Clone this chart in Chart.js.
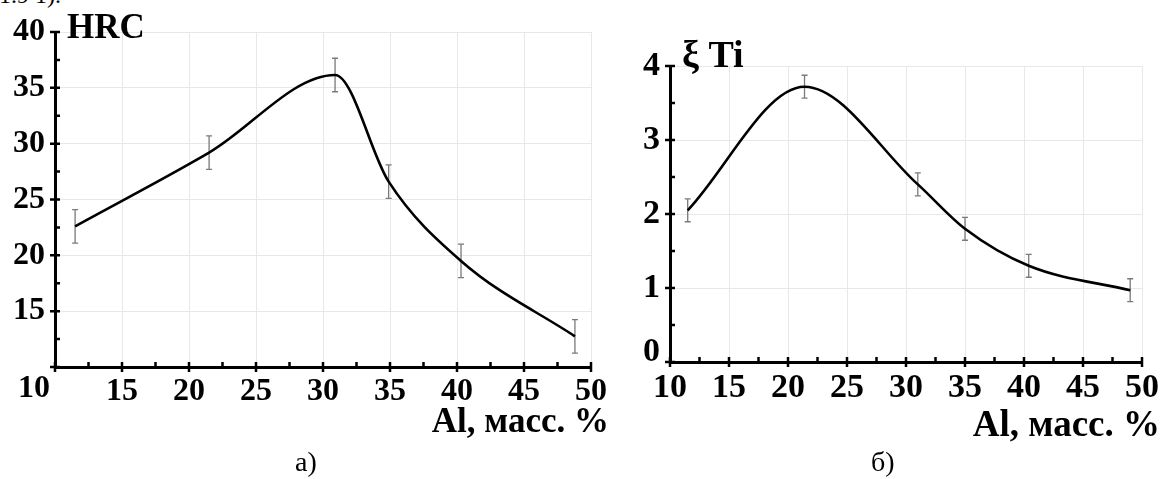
<!DOCTYPE html>
<html>
<head>
<meta charset="utf-8">
<script src="https://cdn.jsdelivr.net/npm/chart.js@4.4.1/dist/chart.umd.min.js"></script>
<style>
html,body{margin:0;padding:0;background:#fff;width:1166px;height:479px;overflow:hidden;position:relative;}
canvas{position:absolute;top:0;}
#c1{left:0;}
#c2{left:620px;}
.txt{position:absolute;font-family:"Liberation Serif","Times New Roman",serif;color:#000;white-space:nowrap;}
</style>
</head>
<body>
<div class="txt" style="left:-1px;top:-17px;font-size:24px;line-height:24px;">1.9 1).</div>
<canvas id="c1" width="620" height="479"></canvas>
<canvas id="c2" width="546" height="479"></canvas>
<div class="txt" style="left:295px;top:448px;font-size:28px;line-height:28px;">а)</div>
<div class="txt" style="left:871px;top:448px;font-size:28px;line-height:28px;">б)</div>
<script>
// ---- data ----
const xTickValues = [10, 15, 20, 25, 30, 35, 40, 45, 50];

const alHRC  = [11.5, 21.5, 30.9, 34.9, 40.3, 48.8];
const hrc    = [22.6, 29.2, 36.15, 26.6, 19.5, 12.75];
const hrcErr = [1.5, 1.5, 1.5, 1.5, 1.5, 1.5];
const hrcTickValues = [10, 15, 20, 25, 30, 35, 40];

const alTi   = [11.5, 21.4, 31.0, 35.0, 40.4, 49.0];
const xiTi   = [2.05, 3.72, 2.40, 1.80, 1.30, 0.97];
const xiErr  = [0.155, 0.155, 0.155, 0.155, 0.155, 0.155];
const xiTickValues = [0, 1, 2, 3, 4];

const xTitle = 'Al, масс. %';
const FONT = '"Liberation Serif", "Times New Roman", serif';

// plugin: error bars, axis tick marks, custom labels and titles
const decor = {
  id: 'decor',
  beforeDatasetsDraw(chart, args, o) {
    const ctx = chart.ctx, xs = chart.scales.x, ys = chart.scales.y;
    ctx.save();
    ctx.strokeStyle = '#7a7a7a';
    ctx.lineWidth = 1.3;
    o.xv.forEach((xv, i) => {
      const px = xs.getPixelForValue(xv);
      const top = ys.getPixelForValue(o.yv[i] + o.err[i]);
      const bot = ys.getPixelForValue(o.yv[i] - o.err[i]);
      ctx.beginPath();
      ctx.moveTo(px, top); ctx.lineTo(px, bot);
      ctx.moveTo(px - 3, top); ctx.lineTo(px + 3, top);
      ctx.moveTo(px - 3, bot); ctx.lineTo(px + 3, bot);
      ctx.stroke();
    });
    ctx.restore();
  },
  afterDraw(chart, args, o) {
    const ctx = chart.ctx, xs = chart.scales.x, ys = chart.scales.y;
    const axY = ys.getPixelForValue(ys.min);
    const axX = xs.getPixelForValue(xs.min);
    ctx.save();
    ctx.strokeStyle = '#000';
    ctx.lineWidth = 2.5;
    ctx.beginPath();
    // x ticks
    for (let i = 0; i < o.xTicks.length; i++) {
      const v = o.xTicks[i];
      const p = xs.getPixelForValue(v);
      ctx.moveTo(p, axY - 5); ctx.lineTo(p, axY + 5);
      if (i < o.xTicks.length - 1) {
        const m = xs.getPixelForValue((v + o.xTicks[i + 1]) / 2);
        ctx.moveTo(m, axY); ctx.lineTo(m, axY - 5);
      }
    }
    // y ticks
    for (let i = 0; i < o.yTicks.length; i++) {
      const v = o.yTicks[i];
      const p = ys.getPixelForValue(v);
      ctx.moveTo(axX - 5, p); ctx.lineTo(axX + 5, p);
      if (i < o.yTicks.length - 1) {
        const m = ys.getPixelForValue((v + o.yTicks[i + 1]) / 2);
        ctx.moveTo(axX, m); ctx.lineTo(axX + 5, m);
      }
    }
    ctx.stroke();
    // custom shifted labels
    ctx.fillStyle = '#000';
    ctx.font = 'bold ' + o.tickSize + 'px ' + FONT;
    (o.extra || []).forEach(e => {
      ctx.textAlign = e.align;
      ctx.textBaseline = e.base;
      const px = e.axis === 'x' ? xs.getPixelForValue(e.v) + e.dx : axX + e.dx;
      const py = e.axis === 'x' ? xs.top + e.dy : ys.getPixelForValue(e.v) + e.dy;
      ctx.fillText(e.t, px, py);
    });
    // titles
    ctx.textBaseline = 'alphabetic';
    ctx.font = 'bold ' + o.yTitle.size + 'px ' + FONT;
    ctx.textAlign = 'left';
    ctx.fillText(o.yTitle.t, o.yTitle.x, o.yTitle.y);
    ctx.font = 'bold ' + o.xTitleO.size + 'px ' + FONT;
    ctx.textAlign = 'right';
    ctx.fillText(xTitle, o.xTitleO.x, o.xTitleO.y);
    ctx.restore();
  }
};

function build(id, cfg) {
  const pts = cfg.xv.map((x, i) => ({ x: x, y: cfg.yv[i] }));
  return new Chart(document.getElementById(id), {
    type: 'line',
    data: { datasets: [{
      data: pts,
      borderColor: '#000',
      borderWidth: 2.6,
      pointRadius: 0,
      fill: false,
      cubicInterpolationMode: 'monotone'
    }]},
    options: {
      responsive: false,
      animation: false,
      events: [],
      layout: { padding: { left: 0, top: cfg.padTop, right: cfg.padRight, bottom: 0 } },
      plugins: {
        legend: { display: false },
        tooltip: { enabled: false },
        decor: cfg.decor
      },
      scales: {
        x: {
          type: 'linear', min: 10, max: 50,
          afterBuildTicks: s => { s.ticks = xTickValues.map(v => ({ value: v })); },
          afterFit: s => { s.height = cfg.xHeight; },
          grid: { color: '#e8e8e8', lineWidth: 1, drawTicks: false },
          border: { color: '#000', width: 3 },
          ticks: {
            color: '#000', padding: 6, maxRotation: 0, autoSkip: false,
            font: { family: FONT, weight: 'bold', size: cfg.tickSize },
            callback: v => (cfg.hideX.includes(v) ? '' : String(v))
          }
        },
        y: {
          type: 'linear', min: cfg.yMin, max: cfg.yMax,
          afterBuildTicks: s => { s.ticks = cfg.yTicks.map(v => ({ value: v })); },
          afterFit: s => { s.width = cfg.yWidth; },
          grid: { color: '#e8e8e8', lineWidth: 1, drawTicks: false },
          border: { color: '#000', width: 3 },
          ticks: {
            color: '#000', padding: 10, autoSkip: false,
            font: { family: FONT, weight: 'bold', size: cfg.tickSize },
            callback: v => (cfg.hideY.includes(v) ? '' : String(v))
          }
        }
      }
    },
    plugins: [decor]
  });
}

build('c1', {
  xv: alHRC, yv: hrc,
  yMin: 10, yMax: 40, yTicks: hrcTickValues,
  padTop: 32, padRight: 29, xHeight: 112, yWidth: 55, tickSize: 32,
  hideX: [10], hideY: [10],
  decor: {
    xv: alHRC, yv: hrc, err: hrcErr,
    xTicks: xTickValues, yTicks: hrcTickValues, tickSize: 32,
    extra: [{ axis: 'x', v: 10, t: '10', dx: -21, dy: 6, align: 'center', base: 'top' }],
    yTitle: { t: 'HRC', x: 67, y: 38, size: 35 },
    xTitleO: { x: 609, y: 432, size: 35 }
  }
});

build('c2', {
  xv: alTi, yv: xiTi,
  yMin: 0, yMax: 4, yTicks: xiTickValues,
  padTop: 66, padRight: 24, xHeight: 117, yWidth: 50, tickSize: 34,
  hideX: [], hideY: [0],
  decor: {
    xv: alTi, yv: xiTi, err: xiErr,
    xTicks: xTickValues, yTicks: xiTickValues, tickSize: 34,
    extra: [{ axis: 'y', v: 0, t: '0', dx: -10, dy: -10, align: 'right', base: 'middle' }],
    yTitle: { t: 'ξ Ti', x: 62, y: 67, size: 38 },
    xTitleO: { x: 540, y: 436, size: 37 }
  }
});
</script>
</body>
</html>
